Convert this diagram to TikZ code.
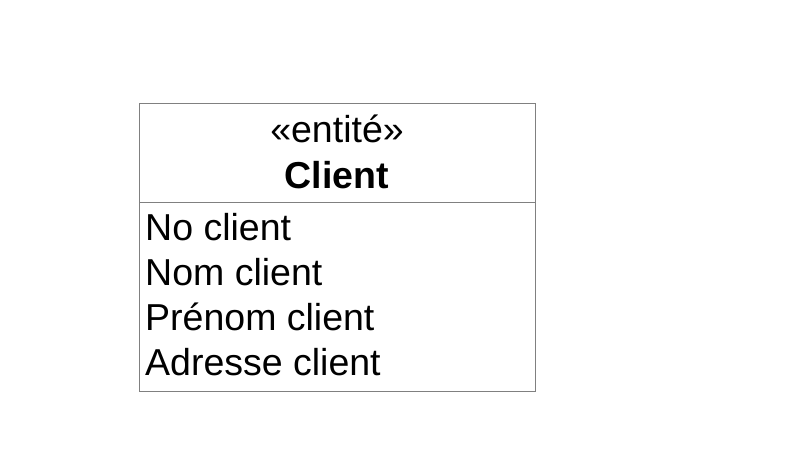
\documentclass[tikz,border=0pt]{standalone}
\usepackage{fontspec}
\setmainfont{Liberation Sans}
\usepackage{xcolor}
\definecolor{boxGray}{RGB}{128,128,128}
\tikzset{
  classbox/.style={draw=boxGray,line width=1pt,minimum width=396pt,minimum height=288pt,inner sep=0pt},
  umltext/.style={font=\fontsize{37.5}{41}\selectfont,inner sep=0pt},
  attr/.style={umltext,anchor=base west}
}
\begin{document}
\begin{tikzpicture}[x=1pt,y=1pt]
\useasboundingbox (0,0) rectangle (800,-467);
\node[classbox] (client) at (337,-247) {};
% compartiment du nom
\coordinate (sepL) at (139,-202);
\coordinate (sepR) at (535,-202);
\draw[boxGray,line width=1pt] (sepL) -- (sepR);
\node[umltext,anchor=base] (stereo) at (337,-142) {«entité»};
\node[umltext,anchor=base,font=\bfseries\fontsize{37.5}{41}\selectfont] (name) at (337,-188) {Client};
% attributs
\node[attr] (noCl) at (145,-240) {No client};
\node[attr] (nomCl) at (145,-285) {Nom client};
\node[attr] (prenomCl) at (145,-330) {Prénom client};
\node[attr] (adrCl) at (145,-375) {Adresse client};
\end{tikzpicture}
\end{document}
